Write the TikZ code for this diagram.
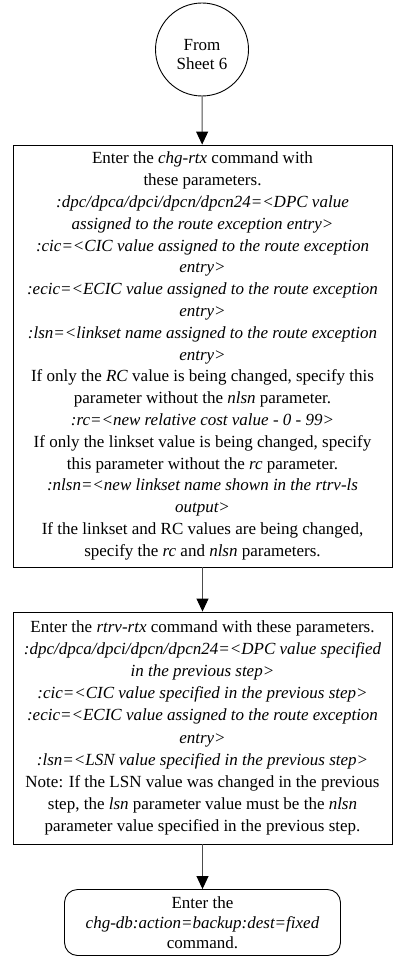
\documentclass[tikz,border=0pt]{standalone}
\usepackage{fontspec}
\setmainfont{Liberation Serif}
\usetikzlibrary{arrows.meta}
\begin{document}
\begin{tikzpicture}[x=1pt,y=-1pt,
  txt/.style={font=\fontsize{17}{21.8}\selectfont, align=center, inner sep=0pt},
  boxr/.style={draw=black, line width=0.9pt, txt},
  conn/.style={draw=black!70, line width=1pt, -{Triangle[width=12pt,length=13pt,color=black]}},
]
\useasboundingbox (0,0) rectangle (393,957);
\node[draw, circle, minimum size=93pt, line width=0.9pt, txt, font=\fontsize{17}{19}\selectfont] (c) at (202,49.5) {\rule{0pt}{21pt}From\\Sheet 6};
\node[boxr, minimum width=379pt, minimum height=422pt] (b1) at (202.5,356) {%
Enter the \textit{chg-rtx} command with\\
these parameters.\\
\textit{:dpc/dpca/dpci/dpcn/dpcn24=<DPC value}\\
\textit{assigned to the route exception entry>}\\
\textit{:cic=<CIC value assigned to the route exception}\\
\textit{entry>}\\
\textit{:ecic=<ECIC value assigned to the route exception}\\
\textit{entry>}\\
\textit{:lsn=<linkset name assigned to the route exception}\\
\textit{entry>}\\
If only the \textit{RC} value is being changed, specify this\\
parameter without the \textit{nlsn} parameter.\\
\textit{:rc=<new relative cost value - 0 - 99>}\\
If only the linkset value is being changed, specify\\
this parameter without the \textit{rc} parameter.\\
\textit{:nlsn=<new linkset name shown in the rtrv-ls}\\
\textit{output>}\\
If the linkset and RC values are being changed,\\
specify the \textit{rc} and \textit{nlsn} parameters.};
\node[boxr, minimum width=379pt, minimum height=232pt, font=\fontsize{17}{22.2}\selectfont] (b2) at (202.5,728) {%
Enter the \textit{rtrv-rtx} command with these parameters.\\
\textit{:dpc/dpca/dpci/dpcn/dpcn24=<DPC value specified}\\
\textit{in the previous step>}\\
\textit{:cic=<CIC value specified in the previous step>}\\
\textit{:ecic=<ECIC value assigned to the route exception}\\
\textit{entry>}\\
\textit{:lsn=<LSN value specified in the previous step>}\\
Note: If the LSN value was changed in the previous\\
step, the \textit{lsn} parameter value must be the \textit{nlsn}\\
parameter value specified in the previous step.};
\node[boxr, rounded corners=13pt, minimum width=276pt, minimum height=66pt, font=\fontsize{17}{20}\selectfont] (b3) at (202.5,922.5) {%
Enter the\\
\textit{chg-db:action=backup:dest=fixed}\\
command.};
\draw[conn] (c) -- (b1);
\draw[conn] (b1) -- (b2);
\draw[conn] (b2) -- (b3);
\end{tikzpicture}
\end{document}
